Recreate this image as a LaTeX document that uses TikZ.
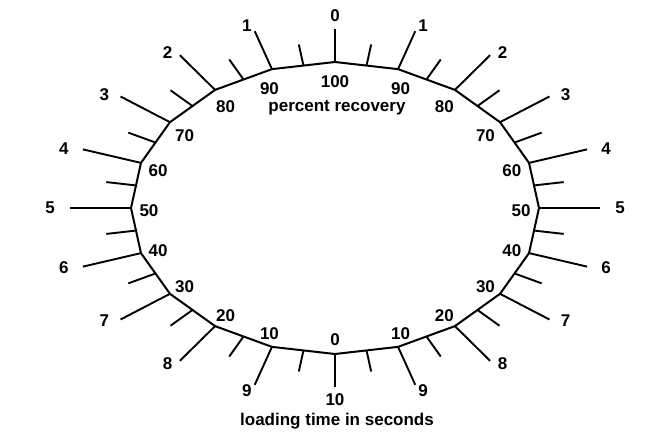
\documentclass[tikz,border=0pt]{standalone}
\usepackage{fontspec}
\setmainfont{Liberation Sans}
\usetikzlibrary{calc}

\begin{document}
\begin{tikzpicture}[
  x=1pt, y=-1pt,
  rim/.style   = {line width=2pt, line join=round},
  tick/.style  = {line width=1.9pt},
  num/.style   = {font=\bfseries\fontsize{17}{20}\selectfont, inner sep=0pt},
]
  \useasboundingbox (0,0) rectangle (654,433);
  \coordinate (c)  at (335,208);
  \coordinate (ic) at (335,211);

  % corners of the dial
  \foreach \i in {0,...,19} {
    \pgfmathsetmacro\t{18*\i}
    \coordinate (v\i) at ($(c)+({204*sin(\t)},{-146*cos(\t)})$);
  }
  \draw[rim] (v0) \foreach \i in {1,...,19} { -- (v\i) } -- cycle;

  % long ticks and both scales
  \foreach \i in {0,...,19} {
    \pgfmathsetmacro\t{18*\i}
    \pgfmathsetmacro\L{33+28*abs(sin(\t))}
    \pgfmathsetmacro\a{ifthenelse(abs(cos(\t))>0.9,212,186)}
    \pgfmathtruncatemacro\pr{10*abs(10-\i)}
    \pgfmathtruncatemacro\lt{10-abs(10-\i)}
    \draw[tick] (v\i) -- ($(v\i)!-\L pt!(c)$);
    \node[num] (s\i) at ($(c)+({285*sin(\t)},{-192*cos(\t)})$) {\lt};
    \node[num] (p\i) at ($(ic)+({\a*sin(\t)},{-129*cos(\t)})$) {\pr};
  }

  % short ticks halfway along each side
  \foreach \i in {0,...,19} {
    \pgfmathtruncatemacro\j{mod(\i+1,20)}
    \pgfmathsetmacro\l{20+10*abs(sin(18*\i+9))}
    \coordinate (m\i) at ($(v\i)!.5!(v\j)$);
    \draw[tick] (m\i) -- ($(m\i)!-\l pt!(c)$);
  }

  \node[num] (rec)  at (337,108) {percent recovery};
  \node[num] (load) at (337,421) {loading time in seconds};
\end{tikzpicture}
\end{document}
